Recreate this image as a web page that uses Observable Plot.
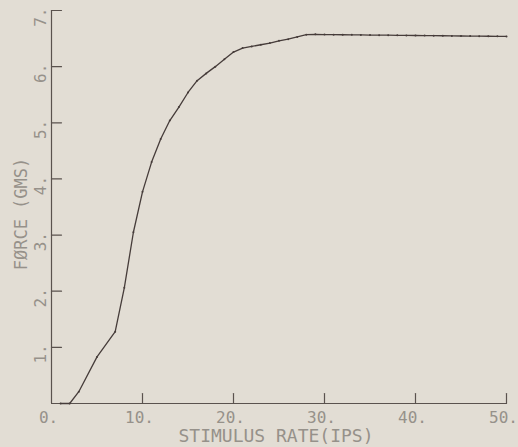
<!DOCTYPE html>
<html><head><meta charset="utf-8">
<script src="https://cdn.jsdelivr.net/npm/d3@7"></script>
<script src="https://cdn.jsdelivr.net/npm/@observablehq/plot@0.6"></script>
<style>
html,body{margin:0;padding:0;background:#e2ddd4;}
#chart svg{display:block;}
</style></head><body><div id="chart"></div>
<script>
const rate = [1,2,3,5,7,8,9,10,11,12,13,14,15,16,17,18,19,20,21,22,23,24,25,26,27,28,29,30,31,32,33,34,35,36,37,38,39,40,41,42,43,44,45,46,47,48,49,50];
const force = [0,0,0.21,0.83,1.28,2.06,3.05,3.77,4.3,4.71,5.04,5.28,5.54,5.75,5.88,6.0,6.13,6.26,6.33,6.36,6.39,6.42,6.46,6.49,6.53,6.57,6.575,6.572,6.57,6.568,6.566,6.565,6.563,6.561,6.56,6.558,6.556,6.555,6.553,6.551,6.55,6.548,6.546,6.545,6.543,6.541,6.54,6.538];
const xTicks = [0,10,20,30,40,50];
const xTickLabels = ["0.","10.","20.","30.","40.","50."];
const yTicks = [1,2,3,4,5,6,7];
const yTickLabels = ["1.","2.","3.","4.","5.","6.","7."];
const xLabel = "STIMULUS RATE(IPS)";
const yLabel = "FØRCE (GMS)";

const data = rate.map((x, i) => ({x, y: force[i]}));
const tickShape = {draw(ctx, l) { ctx.moveTo(0, 0); ctx.lineTo(0, -l); }};
const lineColor = "#463c3a";
const axisColor = "#5a524e";
const textColor = "#96918a";
const font = "'DejaVu Sans Mono', monospace";

const chart = Plot.plot({
  width: 518,
  height: 447,
  marginLeft: 51,
  marginRight: 12,
  marginTop: 10,
  marginBottom: 44,
  x: {domain: [0, 50], axis: null},
  y: {domain: [0, 7], axis: null},
  style: {background: "#e2ddd4", fontFamily: font},
  marks: [
    Plot.ruleY([0], {x1: 0, x2: 50, stroke: axisColor, strokeWidth: 1.2}),
    Plot.ruleX([0], {y1: 0, y2: 7, stroke: axisColor, strokeWidth: 1.2}),
    Plot.vector(xTicks.slice(1), {x: d => d, y: () => 0, length: 10, rotate: 0, anchor: "start", shape: tickShape, stroke: axisColor, strokeWidth: 1.2}),
    Plot.vector(yTicks, {x: () => 0, y: d => d, length: 10, rotate: 90, anchor: "start", shape: tickShape, stroke: axisColor, strokeWidth: 1.2}),
    Plot.text(xTicks, {x: d => d, y: () => 0, text: (d, i) => xTickLabels[i], dy: 14, dx: -3, fill: textColor, fontSize: 16}),
    Plot.text(yTicks, {x: () => 0, y: d => d, text: (d, i) => yTickLabels[i], rotate: -90, textAnchor: "end", dx: -11, dy: -3, fill: textColor, fontSize: 16}),
    Plot.text([xLabel], {frameAnchor: "bottom", lineAnchor: "middle", textAnchor: "middle", dy: 33, dx: -3, fill: textColor, fontSize: 18}),
    Plot.text([yLabel], {frameAnchor: "left", lineAnchor: "middle", textAnchor: "middle", rotate: -90, dx: -30, dy: 7, fill: textColor, fontSize: 17}),
    Plot.line(data, {x: "x", y: "y", stroke: lineColor, strokeWidth: 1.3}),
    Plot.dot(data, {x: "x", y: "y", r: 1, fill: lineColor})
  ]
});
document.getElementById("chart").appendChild(chart);
</script></body></html>
